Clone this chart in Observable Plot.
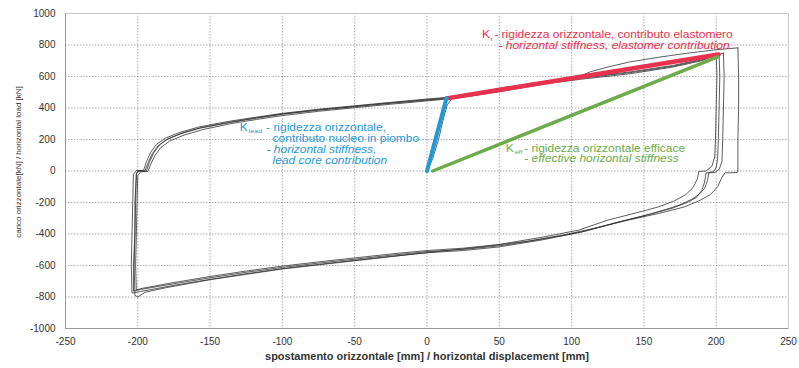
<!DOCTYPE html>
<html><head><meta charset="utf-8">
<script src="https://cdn.jsdelivr.net/npm/d3@7"></script>
<script src="https://cdn.jsdelivr.net/npm/@observablehq/plot@0.6"></script>
<style>
body{margin:0;background:#fff;}
#chart{width:799px;height:368px;}
</style></head><body><div id="chart"></div>
<script>
// Tick values
const xTicks = [-250,-200,-150,-100,-50,0,50,100,150,200,250];
const yTicks = [-1000,-800,-600,-400,-200,0,200,400,600,800,1000];

// Hysteresis cycles: [displacement mm, load kN]
const cycleA = [[202,742],[202.5,600],[202,400],[201.5,200],[201,80],[200,20],[198,-5],[195,-10],[194,-60],[192,-110],[188,-150],[183,-180],[175,-215],[165,-245],[150,-285],[130,-330],[106,-390],[80,-432],[50,-475],[25,-498],[0,-512],[-25,-535],[-50,-560],[-75,-585],[-100,-612],[-125,-643],[-150,-678],[-175,-716],[-198,-752],[-203,-762],[-203,-600],[-202,-400],[-202,-200],[-201,-20],[-200,0],[-195,2],[-193,50],[-190,110],[-186,160],[-180,200],[-170,238],[-157,272],[-136,308],[-118,335],[-100,360],[-75,386],[-50,408],[-25,430],[0,450],[15,462],[30,480],[50,508],[83,560],[106,588],[141,625],[170,665],[190,705],[202,742]];
const cycleB = [[200,738],[200.5,600],[200,400],[199.5,200],[199,90],[197,30],[193,0],[188,-3],[187,-50],[184,-105],[179,-150],[171,-190],[160,-228],[145,-265],[125,-312],[105,-375],[80,-420],[50,-466],[25,-490],[0,-505],[-25,-527],[-50,-552],[-75,-577],[-100,-604],[-125,-635],[-150,-670],[-175,-708],[-197,-745],[-201,-756],[-201.5,-600],[-201,-400],[-200.5,-200],[-200,-30],[-198,-5],[-193,-3],[-191,45],[-188,100],[-184,150],[-178,190],[-168,228],[-155,263],[-136,300],[-118,327],[-100,352],[-75,379],[-50,402],[-25,424],[0,445],[15,458],[30,475],[50,503],[83,555],[106,582],[141,618],[170,660],[190,700],[200,738]];
const cycleC = [[205,748],[205.5,600],[205,400],[204.5,200],[204,60],[202,10],[199,-10],[193,-12],[192,-70],[190,-125],[186,-170],[180,-200],[170,-235],[155,-272],[135,-318],[110,-380],[80,-437],[50,-482],[25,-505],[0,-519],[-25,-542],[-50,-567],[-75,-593],[-100,-620],[-125,-652],[-150,-688],[-175,-726],[-198,-765],[-204,-775],[-204.5,-600],[-204,-400],[-203.5,-200],[-203,-20],[-201,2],[-196,4],[-194,60],[-191,120],[-187,170],[-181,208],[-171,245],[-158,279],[-138,314],[-118,342],[-100,366],[-75,392],[-50,414],[-25,436],[0,457],[15,468],[30,486],[50,514],[83,566],[106,593],[141,630],[170,670],[190,710],[205,748]];
const cycleD = [[215,782],[215.5,600],[215.5,400],[215,200],[215,0],[214.5,-10],[206,-12],[204,-40],[201,-100],[196,-150],[188,-190],[178,-228],[160,-270],[140,-310],[115,-365],[95,-405],[70,-445],[40,-480],[0,-518],[-50,-570],[-100,-622],[-150,-690],[-180,-740],[-195,-770],[-200,-800],[-202,-790],[-202.5,-600],[-202,-400],[-201.5,-200],[-201,-20],[-200,-2],[-194,0],[-192,55],[-189,115],[-185,165],[-179,205],[-169,242],[-156,276],[-136,311],[-118,338],[-100,363],[-75,389],[-50,411],[-25,433],[0,453],[15,465],[30,485],[50,525],[75,560],[90,578],[105,600],[113,630],[125,660],[140,692],[160,722],[180,748],[200,770],[215,782]];
const firstLoading = [[0,0],[4,80],[8,200],[11,320],[14,420],[17,458],[25,470]];

// Stiffness lines
const kElast = [[13.5,461],[201.6,740]];
const kLead = [[0,0],[13.5,463]];
const kEff = [[4,0],[201,725]];

// Axis titles
const xTitle = "spostamento orizzontale [mm] / horizontal displacement [mm]";
const yTitle = "carico orizzontale[kN] / horizontal load [kN]";

// Annotations (anchored in data units)
const RED = "#e8304f", BLUE = "#1f9ad8", GREEN = "#6dab4a";
const notes = [
  {x:38.0, y:864, t:"K", c:RED, s:10, i:false},
  {x:44.0, y:838, t:"r", c:RED, s:6, i:false},
  {x:46.5, y:864, t:"- rigidezza orizzontale, contributo elastomero", c:RED, s:10, i:false},
  {x:49.4, y:794, t:"- horizontal stiffness, elastomer contribution", c:RED, s:10, i:true},
  {x:-129.5, y:277, t:"K", c:BLUE, s:10, i:false},
  {x:-123.4, y:253, t:"lead", c:BLUE, s:6, i:false},
  {x:-111.3, y:277, t:"- rigidezza orizzontale,", c:BLUE, s:10, i:false},
  {x:-106.8, y:204, t:"contributo nucleo in piombo", c:BLUE, s:10, i:false},
  {x:-111, y:135, t:"- horizontal stiffness,", c:BLUE, s:10, i:true},
  {x:-106.8, y:65, t:"lead core contribution", c:BLUE, s:10, i:true},
  {x:54.5, y:144, t:"K", c:GREEN, s:10, i:false},
  {x:60.6, y:119, t:"eff", c:GREEN, s:6, i:false},
  {x:67.2, y:144, t:"- rigidezza orizzontale efficace", c:GREEN, s:10, i:false},
  {x:67.2, y:74.5, t:"- effective horizontal stiffness", c:GREEN, s:10, i:true}
];

const cycles = [cycleA, cycleB, cycleC, cycleD, firstLoading];
const loopRows = cycles.flatMap((c, k) => c.map(([x, y]) => ({x, y, k})));
const seg = (arr) => arr.map(([x, y]) => ({x, y}));
const fmt = (d) => String(d);

const chart = Plot.plot({
  width: 799, height: 368,
  marginLeft: 65, marginRight: 11, marginTop: 13, marginBottom: 40,
  style: {fontFamily: "'Liberation Sans', Arial, sans-serif", fontSize: "10px", color: "#333", background: "#fff", overflow: "visible"},
  color: {type: "identity"},
  x: {domain: [-250, 250], label: null},
  y: {domain: [-1000, 1000], label: null},
  marks: [
    Plot.gridX(xTicks, {stroke: "#777", strokeOpacity: 0.6, strokeDasharray: "1.5,1.5"}),
    Plot.gridY(yTicks, {stroke: "#777", strokeOpacity: 0.6, strokeDasharray: "1.5,1.5"}),
    Plot.frame({stroke: "#c8c8c8"}),
    Plot.ruleX([-250], {stroke: "#999"}),
    Plot.ruleY([-1000], {stroke: "#999"}),
    Plot.axisX(xTicks, {tickSize: 0, tickPadding: 9, fontSize: 10, fill: "#333", tickFormat: fmt}),
    Plot.axisY(yTicks, {tickSize: 0, tickPadding: 10, fontSize: 10, fill: "#333", tickFormat: fmt}),
    Plot.line(loopRows, {x: "x", y: "y", z: "k", stroke: "#2b2b2b", strokeWidth: 0.9, strokeOpacity: 0.85}),
    Plot.line(seg(kElast), {x: "x", y: "y", stroke: RED, strokeWidth: 4.5}),
    Plot.line(seg(kEff), {x: "x", y: "y", stroke: GREEN, strokeWidth: 3.5}),
    Plot.line(seg(kLead), {x: "x", y: "y", stroke: BLUE, strokeWidth: 4}),
    Plot.text(notes.filter(d => !d.i), {x: "x", y: "y", text: "t", fill: "c", fontSize: "s", textAnchor: "start", className: "note"}),
    Plot.text(notes.filter(d => d.i), {x: "x", y: "y", text: "t", fill: "c", fontSize: "s", textAnchor: "start", fontStyle: "italic", className: "note"}),
    Plot.text([xTitle], {frameAnchor: "bottom", dy: 31, fontWeight: "bold", fontSize: 11, fill: "#333"}),
    Plot.text([yTitle], {frameAnchor: "left", textAnchor: "middle", dx: -47, dy: -9, rotate: -90, fontSize: 8, fill: "#333"})
  ]
});
// widen annotation lettering like the reference's stretched type
d3.select(chart).selectAll("g.note text").attr("transform", function() {
  return this.getAttribute("transform") + " scale(1.2,1)";
});
document.getElementById("chart").append(chart);
</script>
</body></html>
